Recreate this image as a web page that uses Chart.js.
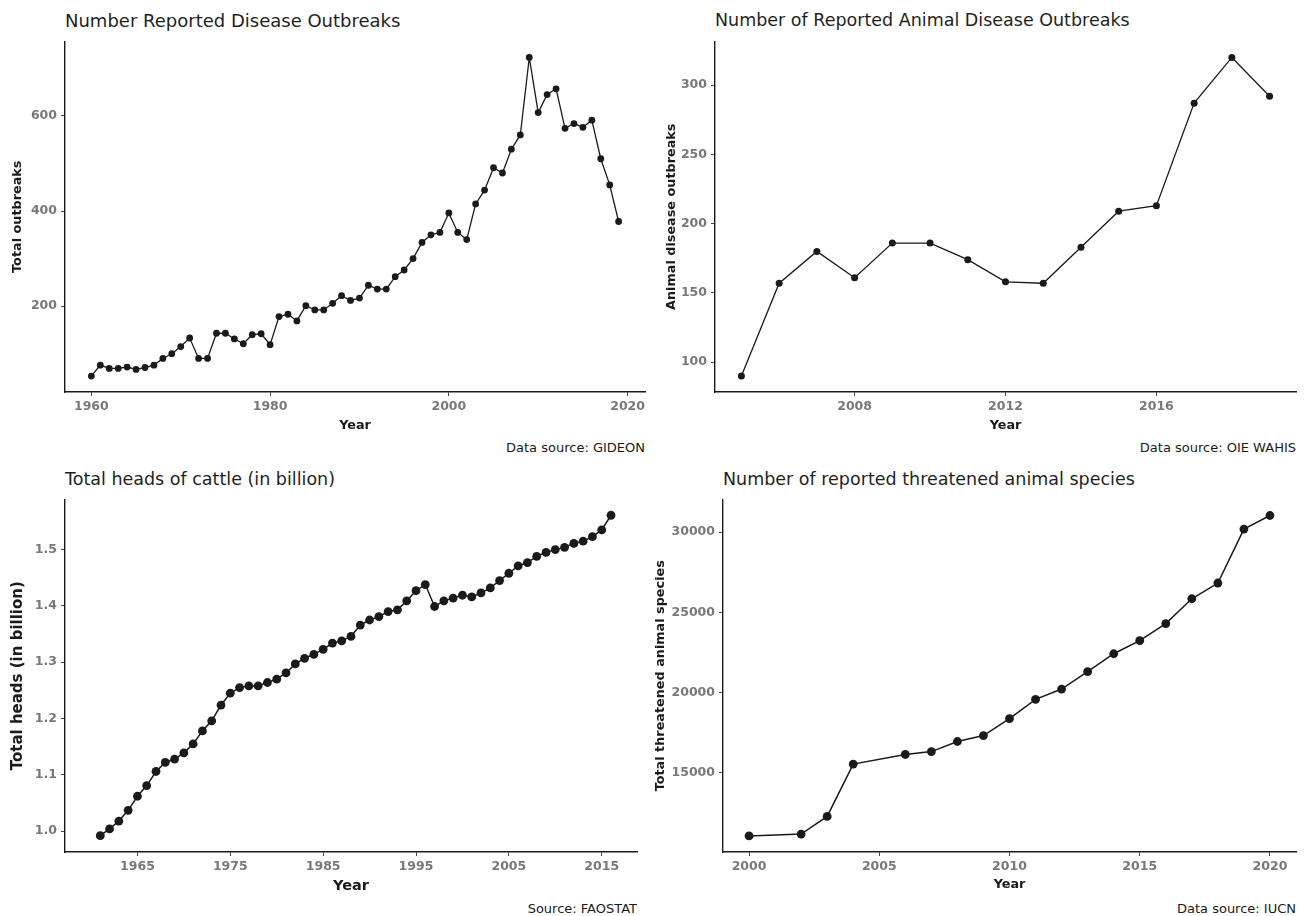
<!DOCTYPE html>
<html>
<head>
<meta charset="utf-8">
<script src="https://cdn.jsdelivr.net/npm/chart.js@4.4.1/dist/chart.umd.min.js"></script>
<style>
  body { margin: 0; background: #fff; font-family: "DejaVu Sans", sans-serif; }
  #page { position: relative; width: 1304px; height: 916px; overflow: hidden; }
  .box { position: absolute; }
  .title { position: absolute; font-size: 17.5px; line-height: 17.5px; color: #1f1f1f; white-space: nowrap; }
  .cap { position: absolute; font-size: 13px; line-height: 13px; color: #1a1a1a; text-align: right; white-space: nowrap; }
</style>
</head>
<body>
<div id="page">
  <div class="title" style="left:65px; top:12px; font-size:18px;">Number Reported Disease Outbreaks</div>
  <div class="title" style="left:715px; top:12px;">Number of Reported Animal Disease Outbreaks</div>
  <div class="title" style="left:65px; top:471px;">Total heads of cattle (in billion)</div>
  <div class="title" style="left:723px; top:471px;">Number of reported threatened animal species</div>

  <div class="box" style="left:0px; top:30px; width:652px; height:405px;"><canvas id="c1"></canvas></div>
  <div class="box" style="left:652px; top:30px; width:652px; height:405px;"><canvas id="c2"></canvas></div>
  <div class="box" style="left:0px; top:488px; width:645px; height:410px;"><canvas id="c3"></canvas></div>
  <div class="box" style="left:652px; top:488px; width:652px; height:406px;"><canvas id="c4"></canvas></div>

  <div class="cap" style="left:0px; width:645px; top:441px;">Data source: GIDEON</div>
  <div class="cap" style="left:652px; width:644px; top:441px;">Data source: OIE WAHIS</div>
  <div class="cap" style="left:0px; width:637px; top:902px;">Source: FAOSTAT</div>
  <div class="cap" style="left:652px; width:644px; top:902px;">Data source: IUCN</div>
</div>
<script>
// outbreaks reported to GIDEON
const years1 = [1960, 1961, 1962, 1963, 1964, 1965, 1966, 1967, 1968, 1969,
  1970, 1971, 1972, 1973, 1974, 1975, 1976, 1977, 1978, 1979,
  1980, 1981, 1982, 1983, 1984, 1985, 1986, 1987, 1988, 1989,
  1990, 1991, 1992, 1993, 1994, 1995, 1996, 1997, 1998, 1999,
  2000, 2001, 2002, 2003, 2004, 2005, 2006, 2007, 2008, 2009,
  2010, 2011, 2012, 2013, 2014, 2015, 2016, 2017, 2018, 2019];
const outbreaks = [53, 76, 69, 69, 72, 67, 71, 76, 90, 100,
  115, 133, 90, 90, 143, 143, 131, 121, 140, 142,
  119, 178, 183, 169, 201, 192, 192, 206, 222, 212,
  217, 244, 236, 236, 262, 276, 300, 334, 350, 355,
  396, 355, 340, 415, 444, 491, 480, 530, 560, 723,
  607, 645, 657, 574, 584, 576, 591, 510, 455, 378];
const xTicks1 = [1960, 1980, 2000, 2020];
const yTicks1 = [200, 400, 600];

// animal disease outbreaks (OIE WAHIS)
const years2 = [2005, 2006, 2007, 2008, 2009, 2010, 2011, 2012, 2013, 2014, 2015, 2016, 2017, 2018, 2019];
const animalOutbreaks = [90, 157, 180, 161, 186, 186, 174, 158, 157, 183, 209, 213, 287, 320, 292];
const xTicks2 = [2008, 2012, 2016];
const yTicks2 = [100, 150, 200, 250, 300];

// cattle heads, billion (FAOSTAT)
const years3 = [1961, 1962, 1963, 1964, 1965, 1966, 1967, 1968, 1969, 1970,
  1971, 1972, 1973, 1974, 1975, 1976, 1977, 1978, 1979, 1980,
  1981, 1982, 1983, 1984, 1985, 1986, 1987, 1988, 1989, 1990,
  1991, 1992, 1993, 1994, 1995, 1996, 1997, 1998, 1999, 2000,
  2001, 2002, 2003, 2004, 2005, 2006, 2007, 2008, 2009, 2010,
  2011, 2012, 2013, 2014, 2015, 2016];
const cattle = [0.992, 1.004, 1.018, 1.037, 1.062, 1.081, 1.106, 1.122, 1.128, 1.139,
  1.155, 1.178, 1.196, 1.224, 1.245, 1.255, 1.258, 1.258, 1.264, 1.270,
  1.281, 1.297, 1.307, 1.314, 1.323, 1.334, 1.338, 1.346, 1.366, 1.375,
  1.381, 1.390, 1.393, 1.409, 1.427, 1.438, 1.399, 1.409, 1.414, 1.419,
  1.416, 1.423, 1.432, 1.445, 1.458, 1.471, 1.477, 1.488, 1.495, 1.500,
  1.504, 1.511, 1.515, 1.523, 1.535, 1.561];
const xTicks3 = [1965, 1975, 1985, 1995, 2005, 2015];
const yTicks3 = [1.0, 1.1, 1.2, 1.3, 1.4, 1.5];

// threatened animal species (IUCN)
const years4 = [2000, 2002, 2003, 2004, 2006, 2007, 2008, 2009, 2010, 2011,
  2012, 2013, 2014, 2015, 2016, 2017, 2018, 2019, 2020];
const threatened = [11060, 11180, 12280, 15540, 16140, 16320, 16950, 17320, 18380, 19580,
  20220, 21300, 22420, 23240, 24300, 25850, 26830, 30190, 31040];
const xTicks4 = [2000, 2005, 2010, 2015, 2020];
const yTicks4 = [15000, 20000, 25000, 30000];

Chart.defaults.font.family = '"DejaVu Sans", sans-serif';
Chart.defaults.animation = false;

const INK = '#1a1a1a';
const TICKGREY = '#787878';

function makeChart(id, xs, ys, o) {
  const points = xs.map((x, i) => ({x: x, y: ys[i]}));
  return new Chart(document.getElementById(id), {
    type: 'line',
    data: {
      datasets: [{
        data: points,
        borderColor: INK,
        borderWidth: o.lineWidth,
        pointRadius: o.radius,
        pointBackgroundColor: INK,
        pointBorderWidth: 0,
        tension: 0
      }]
    },
    options: {
      responsive: true,
      maintainAspectRatio: false,
      layout: { padding: { top: o.padTop, right: o.padRight, left: 0, bottom: 0 } },
      plugins: { legend: { display: false }, tooltip: { enabled: false } },
      scales: {
        x: {
          type: 'linear',
          min: o.xMin, max: o.xMax,
          afterBuildTicks: (s) => { s.ticks = o.xTicks.map(v => ({value: v})); },
          afterFit: (s) => { s.height = o.xH; },
          border: { display: true, color: INK, width: 1.4 },
          grid: { drawOnChartArea: false, drawTicks: true, tickLength: 4, color: '#444', lineWidth: 1 },
          ticks: {
            color: TICKGREY, padding: 3, maxRotation: 0,
            font: { size: 12.5, weight: 'bold' },
            callback: (v) => String(v)
          },
          title: {
            display: true, text: 'Year', color: INK,
            font: { size: o.xTitleSize, weight: 'bold' },
            padding: { top: 0, bottom: o.xTitlePad }
          }
        },
        y: {
          min: o.yMin, max: o.yMax,
          afterBuildTicks: (s) => { s.ticks = o.yTicks.map(v => ({value: v})); },
          afterFit: (s) => { s.width = o.yW; },
          border: { display: true, color: INK, width: 1.4 },
          grid: { drawOnChartArea: false, drawTicks: true, tickLength: 4, color: '#444', lineWidth: 1 },
          ticks: {
            color: TICKGREY, padding: 4,
            font: { size: 12.5, weight: 'bold' },
            callback: o.yFmt
          },
          title: {
            display: true, text: o.yTitle, color: INK,
            font: { size: o.yTitleSize, weight: 'bold' },
            padding: { top: o.yTitlePad, bottom: 0 }
          }
        }
      }
    }
  });
}

makeChart('c1', years1, outbreaks, {
  xMin: 1957.05, xMax: 2021.95, yMin: 19.5, yMax: 756.5,
  xTicks: xTicks1, yTicks: yTicks1, yFmt: (v) => String(v),
  yTitle: 'Total outbreaks', yTitleSize: 12.8, yTitlePad: 10.3,
  xTitleSize: 12.8, xTitlePad: 1.3,
  yW: 65, xH: 43, padTop: 10, padRight: 7,
  lineWidth: 1.3, radius: 3.4
});

makeChart('c2', years2, animalOutbreaks, {
  xMin: 2004.3, xMax: 2019.7, yMin: 78.5, yMax: 331.5,
  xTicks: xTicks2, yTicks: yTicks2, yFmt: (v) => String(v),
  yTitle: 'Animal disease outbreaks', yTitleSize: 12.8, yTitlePad: 12,
  xTitleSize: 12.8, xTitlePad: 1.3,
  yW: 63, xH: 43, padTop: 10, padRight: 8,
  lineWidth: 1.3, radius: 3.5
});

makeChart('c3', years3, cattle, {
  xMin: 1957.2, xMax: 2018.8, yMin: 0.963, yMax: 1.589,
  xTicks: xTicks3, yTicks: yTicks3, yFmt: (v) => Number(v).toFixed(1),
  yTitle: 'Total heads (in billion)', yTitleSize: 15, yTitlePad: 9.3,
  xTitleSize: 14.5, xTitlePad: 3.3,
  yW: 65, xH: 46, padTop: 10, padRight: 8,
  lineWidth: 1.5, radius: 4.4
});

makeChart('c4', years4, threatened, {
  xMin: 1999, xMax: 2021, yMin: 10060, yMax: 32037,
  xTicks: xTicks4, yTicks: yTicks4, yFmt: (v) => String(v),
  yTitle: 'Total threatened animal species', yTitleSize: 12.8, yTitlePad: 0.5,
  xTitleSize: 12.8, xTitlePad: 2,
  yW: 71, xH: 42, padTop: 10, padRight: 8,
  lineWidth: 1.5, radius: 4.4
});
</script>
</body>
</html>
